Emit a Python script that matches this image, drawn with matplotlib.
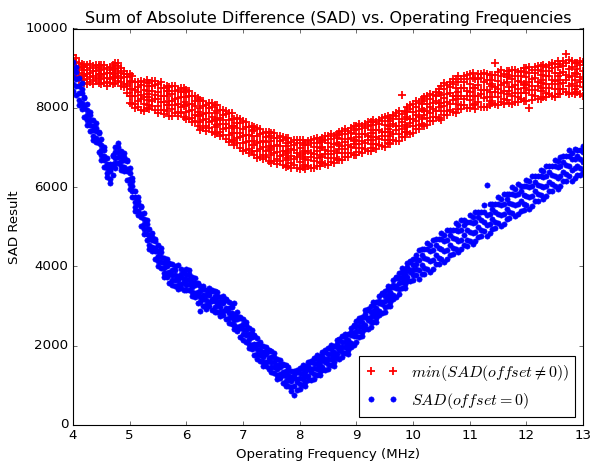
"""
SAD result against operating frequency, for zero offset and for the best non-zero offset.
"""
import numpy as np
import matplotlib
matplotlib.use('Agg')
from matplotlib import pyplot as plt

# frequency sweep, MHz
freq = np.round(np.arange(4.0, 13.0001, 0.05), 2)

# min(SAD(offset != 0)): readings per frequency, one line = 0.25 MHz
sad_min_offset = [
    (8850, 8970, 9090, 9200, 9340), (8790, 8920, 9030, 9160, 9250), (8690, 8770, 8890, 9000, 9130), (8700, 8790, 8950, 9030, 9110), (8620, 8800, 8860, 9030, 9090),
    (8600, 8720, 8840, 8950, 9090), (8640, 8770, 8880, 9010, 9100), (8610, 8690, 8810, 8920, 9050), (8670, 8760, 8920, 9000, 9080), (8620, 8800, 8860, 9030, 9090),
    (8600, 8720, 8840, 8950, 9090), (8620, 8750, 8860, 8990, 9080), (8560, 8640, 8760, 8870, 9000), (8630, 8720, 8880, 8960, 9040), (8600, 8780, 8840, 9010, 9070),
    (8630, 8750, 8870, 8980, 9120), (8680, 8810, 8920, 9050, 9140), (8560, 8640, 8760, 8870, 9000), (8520, 8610, 8770, 8850, 8930), (8370, 8550, 8610, 8780, 8840),
    (8120, 8300, 8480, 8660, 8860), (8100, 8300, 8470, 8670, 8800), (7990, 8100, 8290, 8450, 8650), (8020, 8160, 8400, 8530, 8650), (7950, 8220, 8320, 8580, 8670),
    (7920, 8100, 8280, 8460, 8660), (7990, 8190, 8360, 8560, 8690), (7970, 8080, 8270, 8430, 8630), (8040, 8180, 8420, 8550, 8670), (7950, 8220, 8320, 8580, 8670),
    (7870, 8050, 8230, 8410, 8610), (7940, 8140, 8310, 8510, 8640), (7840, 7950, 8140, 8300, 8500), (7920, 8060, 8300, 8430, 8550), (7800, 8070, 8170, 8430, 8520),
    (7800, 7980, 8160, 8340, 8540), (7860, 8060, 8230, 8430, 8560), (7790, 7900, 8090, 8250, 8450), (7880, 8020, 8260, 8390, 8510), (7770, 8040, 8140, 8400, 8490),
    (7720, 7900, 8080, 8260, 8460), (7730, 7930, 8100, 8300, 8430), (7640, 7750, 7940, 8100, 8300), (7670, 7810, 8050, 8180, 8300), (7530, 7800, 7900, 8160, 8250),
    (7450, 7630, 7810, 7990, 8190), (7480, 7680, 7850, 8050, 8180), (7420, 7530, 7720, 7880, 8080), (7490, 7630, 7870, 8000, 8120), (7400, 7670, 7770, 8030, 8120),
    (7340, 7520, 7700, 7880, 8080), (7360, 7560, 7730, 7930, 8060), (7280, 7390, 7580, 7740, 7940), (7320, 7460, 7700, 7830, 7950), (7210, 7480, 7580, 7840, 7930),
    (7140, 7320, 7500, 7680, 7880), (7160, 7360, 7530, 7730, 7860), (7070, 7180, 7370, 7530, 7730), (7110, 7250, 7490, 7620, 7740), (6990, 7260, 7360, 7620, 7710),
    (6920, 7100, 7280, 7460, 7660), (6940, 7140, 7310, 7510, 7640), (6860, 6970, 7160, 7320, 7520), (6910, 7050, 7290, 7420, 7540), (6800, 7070, 7170, 7430, 7520),
    (6740, 6920, 7100, 7280, 7480), (6770, 6970, 7140, 7340, 7470), (6700, 6810, 7000, 7160, 7360), (6760, 6900, 7140, 7270, 7390), (6670, 6940, 7040, 7300, 7390),
    (6620, 6800, 6980, 7160, 7360), (6660, 6860, 7030, 7230, 7360), (6590, 6700, 6890, 7050, 7250), (6650, 6790, 7030, 7160, 7280), (6550, 6820, 6920, 7180, 7270),
    (6500, 6680, 6860, 7040, 7240), (6540, 6740, 6910, 7110, 7240), (6490, 6600, 6790, 6950, 7150), (6560, 6700, 6940, 7070, 7190), (6480, 6750, 6850, 7110, 7200),
    (6450, 6630, 6810, 6990, 7190), (6500, 6700, 6870, 7070, 7200), (6450, 6560, 6750, 6910, 7110), (6540, 6680, 6920, 7050, 7170), (6480, 6750, 6850, 7110, 7200),
    (6470, 6650, 6830, 7010, 7210), (6540, 6740, 6910, 7110, 7240), (6520, 6630, 6820, 6980, 7180), (6620, 6760, 7000, 7130, 7250), (6570, 6840, 6940, 7200, 7290),
    (6560, 6740, 6920, 7100, 7300), (6640, 6840, 7010, 7210, 7340), (6620, 6730, 6920, 7080, 7280), (6720, 6860, 7100, 7230, 7350), (6680, 6950, 7050, 7310, 7400),
    (6680, 6860, 7040, 7220, 7420), (6760, 6960, 7130, 7330, 7460), (6750, 6860, 7050, 7210, 7410), (6860, 7000, 7240, 7370, 7490), (6820, 7090, 7190, 7450, 7540),
    (6810, 6990, 7170, 7350, 7550), (6890, 7090, 7260, 7460, 7590), (6870, 6980, 7170, 7330, 7530), (6970, 7110, 7350, 7480, 7600), (6920, 7190, 7290, 7550, 7640),
    (6910, 7090, 7270, 7450, 7650), (6990, 7190, 7360, 7560, 7690), (6970, 7080, 7270, 7430, 7630), (7070, 7210, 7450, 7580, 7700), (7030, 7300, 7400, 7660, 7750),
    (7020, 7200, 7380, 7560, 7760), (7100, 7300, 7470, 7670, 7800), (7090, 7200, 7390, 7550, 7750), (7200, 7340, 7580, 7710, 7830), (7160, 7430, 7530, 7790, 7880),
    (7170, 7350, 7530, 7710, 7910), (7270, 7470, 7640, 7840, 8320), (7270, 7380, 7570, 7730, 7930), (7380, 7520, 7760, 7890, 8010), (7350, 7620, 7720, 7980, 8070),
    (7360, 7540, 7720, 7900, 8100), (7460, 7660, 7830, 8030, 8160), (7460, 7570, 7760, 7920, 8120), (7580, 7720, 7960, 8090, 8210), (7550, 7820, 7920, 8180, 8270),
    (7560, 7740, 7920, 8100, 8300), (7660, 7860, 8030, 8230, 8360), (7660, 7770, 7960, 8120, 8320), (7780, 7920, 8160, 8290, 8410), (7750, 8020, 8120, 8380, 8470),
    (7700, 7910, 8120, 8320, 8550), (7810, 8040, 8240, 8470, 8620), (7810, 7930, 8150, 8340, 8570), (7940, 8100, 8380, 8520, 8660), (7890, 8200, 8310, 8610, 8720),
    (7880, 8090, 8300, 8500, 8730), (7980, 8210, 8410, 8640, 8790), (7960, 8080, 8300, 8490, 8720), (8070, 8230, 8510, 8650, 8790), (8000, 8310, 8420, 8720, 8830),
    (7990, 8200, 8410, 8610, 8840), (8080, 8310, 8510, 8740, 8890), (7970, 8090, 8310, 8500, 8730), (8140, 8300, 8580, 8720, 8860), (8030, 8340, 8450, 8750, 8860),
    (8030, 8240, 8450, 8650, 8880), (8030, 8260, 8460, 8690, 8840), (8060, 8180, 8400, 8590, 8820), (8110, 8270, 8550, 8690, 8830), (8100, 8410, 8520, 8820, 9130),
    (8060, 8270, 8480, 8680, 8910), (8150, 8380, 8580, 8810, 8960), (8090, 8210, 8430, 8620, 8850), (8200, 8360, 8640, 8780, 8920), (8110, 8420, 8530, 8830, 8940),
    (8100, 8310, 8520, 8720, 8950), (8150, 8380, 8580, 8810, 8960), (8140, 8260, 8480, 8670, 8900), (8220, 8380, 8660, 8800, 8940), (8180, 8490, 8600, 8900, 9010),
    (8160, 8370, 8580, 8780, 9010), (8000, 8440, 8640, 8870, 9020), (8200, 8320, 8540, 8730, 8960), (8300, 8460, 8740, 8880, 9020), (8230, 8540, 8650, 8950, 9060),
    (8210, 8420, 8630, 8830, 9060), (8280, 8510, 8710, 8940, 9090), (8260, 8380, 8600, 8790, 9020), (8350, 8510, 8790, 8930, 9070), (8290, 8600, 8710, 9010, 9120),
    (8260, 8470, 8680, 8880, 9110), (8360, 8590, 8790, 9020, 9170), (8350, 8470, 8690, 8880, 9110), (8470, 8630, 8910, 9050, 9190), (8400, 8710, 8820, 9120, 9350),
    (8350, 8560, 8770, 8970, 9200), (8370, 8600, 8800, 9030, 9180), (8360, 8480, 8700, 8890, 9120), (8400, 8560, 8840, 8980, 9120), (8350, 8660, 8770, 9070, 9180),
    (8310, 8520, 8730, 8930, 9160),
]

# SAD(offset = 0): readings per frequency, one line = 0.25 MHz
sad_zero_offset = [
    (8420, 8600, 8785, 8970, 9165), (8320, 8545, 8715, 8895, 9020), (8065, 8205, 8385, 8555, 8750), (7975, 8115, 8380, 8480, 8635), (7775, 7995, 8055, 8245, 8275),
    (7565, 7695, 7825, 7955, 8095), (7405, 7565, 7685, 7815, 7905), (7200, 7300, 7430, 7550, 7690), (7135, 7235, 7425, 7495, 7605), (6885, 7105, 7165, 7355, 7385),
    (6680, 6810, 6940, 7070, 7210), (6515, 6675, 6795, 6925, 7015), (6245, 6345, 6475, 6595, 6735), (6105, 6205, 6395, 6465, 6575), (6305, 6525, 6585, 6775, 6805),
    (6485, 6615, 6745, 6875, 7015), (6610, 6770, 6890, 7020, 7110), (6425, 6525, 6655, 6775, 6915), (6400, 6500, 6690, 6760, 6870), (6180, 6400, 6460, 6650, 6680),
    (5955, 6085, 6215, 6345, 6485), (5740, 5900, 6020, 6150, 6240), (5400, 5500, 5630, 5750, 5890), (5285, 5385, 5575, 5645, 5755), (5030, 5250, 5310, 5500, 5530),
    (4810, 4940, 5070, 5200, 5340), (4665, 4825, 4945, 5075, 5165), (4450, 4550, 4680, 4800, 4940), (4380, 4480, 4670, 4740, 4850), (4180, 4400, 4460, 4650, 4680),
    (4010, 4140, 4270, 4400, 4540), (3960, 4120, 4240, 4370, 4460), (3730, 3830, 3960, 4080, 4220), (3725, 3825, 4015, 4085, 4195), (3580, 3800, 3860, 4050, 4080),
    (3520, 3650, 3780, 3910, 4050), (3505, 3665, 3785, 3915, 4005), (3420, 3520, 3650, 3770, 4040), (3455, 3555, 3745, 3815, 3925), (3395, 3615, 3675, 3865, 3895),
    (3405, 3535, 3665, 3795, 3935), (3405, 3565, 3685, 3815, 3905), (3250, 3350, 3480, 3600, 3740), (3230, 3330, 3520, 3590, 3700), (3080, 3300, 3360, 3550, 3580),
    (2870, 3110, 3240, 3370, 3510), (3010, 3170, 3290, 3420, 3510), (2920, 3020, 3150, 3270, 3410), (2990, 3090, 3280, 3350, 3460), (2905, 3125, 3185, 3375, 3405),
    (2855, 2985, 3115, 3245, 3385), (2855, 3015, 3135, 3265, 3355), (2745, 2845, 2975, 3095, 3235), (2775, 2875, 3065, 3135, 3245), (2670, 2890, 2950, 3140, 3170),
    (2565, 2695, 2825, 2955, 3095), (2555, 2715, 2835, 2965, 3055), (2420, 2520, 2650, 2770, 3070), (2375, 2475, 2665, 2735, 2845), (2225, 2445, 2505, 2695, 2725),
    (2155, 2285, 2415, 2545, 2685), (2105, 2265, 2385, 2515, 2605), (1945, 2045, 2175, 2295, 2435), (1925, 2025, 2215, 2285, 2395), (1775, 1995, 2055, 2245, 2275),
    (1655, 1785, 1915, 2045, 2185), (1605, 1765, 1885, 2015, 2105), (1495, 1595, 1725, 1845, 1985), (1500, 1600, 1790, 1860, 1970), (1400, 1620, 1680, 1870, 1900),
    (1330, 1460, 1590, 1720, 1860), (1305, 1465, 1585, 1715, 1805), (1170, 1270, 1400, 1520, 1660), (1175, 1275, 1465, 1535, 1645), (1050, 1270, 1330, 1520, 1550),
    (980, 1110, 1240, 1370, 1510), (975, 1135, 1255, 1385, 1475), (870, 970, 1100, 1220, 1360), (750, 990, 1180, 1250, 1360), (875, 1095, 1155, 1345, 1375),
    (915, 1045, 1175, 1305, 1445), (1010, 1170, 1290, 1420, 1510), (995, 1095, 1225, 1345, 1485), (1130, 1230, 1420, 1490, 1600), (1125, 1345, 1405, 1595, 1625),
    (1165, 1295, 1425, 1555, 1695), (1255, 1415, 1535, 1665, 1755), (1250, 1350, 1480, 1600, 1740), (1375, 1475, 1665, 1735, 1845), (1380, 1600, 1660, 1850, 1880),
    (1405, 1535, 1665, 1795, 1935), (1510, 1670, 1790, 1920, 2010), (1495, 1595, 1725, 1845, 1985), (1680, 1780, 1970, 2040, 2150), (1675, 1895, 1955, 2145, 2175),
    (1710, 1840, 1970, 2100, 2240), (1805, 1965, 2085, 2215, 2305), (1800, 1900, 2030, 2150, 2290), (1975, 2075, 2265, 2335, 2445), (2030, 2250, 2310, 2500, 2530),
    (2105, 2235, 2365, 2495, 2635), (2210, 2370, 2490, 2620, 2710), (2245, 2345, 2475, 2595, 2735), (2430, 2530, 2720, 2790, 2900), (2425, 2645, 2705, 2895, 2925),
    (2460, 2590, 2720, 2850, 2990), (2605, 2765, 2885, 3015, 3105), (2600, 2700, 2830, 2950, 3090), (2775, 2875, 3065, 3135, 3245), (2830, 3050, 3110, 3300, 3330),
    (2855, 2985, 3115, 3245, 3385), (3010, 3170, 3290, 3420, 3510), (2995, 3095, 3225, 3345, 3485), (3180, 3280, 3470, 3540, 3650), (3225, 3445, 3505, 3695, 3725),
    (3310, 3440, 3570, 3700, 3840), (3455, 3615, 3735, 3865, 3955), (3450, 3550, 3680, 3800, 3940), (3625, 3725, 3915, 3985, 4095), (3630, 3850, 3910, 4100, 4130),
    (3655, 3785, 3915, 4045, 4185), (3780, 3940, 4060, 4190, 4280), (3680, 3920, 4170, 4420), (3800, 4040, 4290, 4430), (3810, 3970, 4210, 4430),
    (3940, 4180, 4430, 4590), (3860, 4140, 4400, 4550), (3930, 4170, 4420, 4670), (4050, 4290, 4540, 4680), (4060, 4220, 4460, 4680),
    (4190, 4430, 4680, 4840), (4110, 4390, 4650, 4800), (4180, 4420, 4670, 4920), (4300, 4540, 4790, 4930), (4310, 4470, 4710, 4930),
    (4440, 4680, 4930, 5090), (4360, 4640, 4900, 5050), (4430, 4670, 4920, 5170), (4550, 4790, 5040, 5180), (4510, 4670, 4910, 5130),
    (4640, 4880, 5130, 5290), (4560, 4840, 5100, 5250), (4630, 4870, 5120, 5370), (4750, 4990, 5240, 5380), (4760, 4920, 5160, 5380),
    (4890, 5130, 5380, 5540), (4760, 5040, 5300, 6050), (4830, 5070, 5320, 5570), (4950, 5190, 5440, 5580), (4960, 5120, 5360, 5580),
    (5090, 5330, 5580, 5740), (5010, 5290, 5550, 5700), (5080, 5320, 5570, 5820), (5200, 5440, 5690, 5830), (5210, 5370, 5610, 5830),
    (5340, 5580, 5830, 5990), (5260, 5540, 5800, 5950), (5330, 5570, 5820, 6070), (5400, 5640, 5890, 6030), (5410, 5570, 5810, 6030),
    (5540, 5780, 6030, 6190), (5460, 5740, 6000, 6150), (5530, 5770, 6020, 6270), (5650, 5890, 6140, 6280), (5660, 5820, 6060, 6280),
    (5790, 6030, 6280, 6440), (5710, 5990, 6250, 6400), (5780, 6020, 6270, 6520), (5900, 6140, 6390, 6530), (5910, 6070, 6310, 6530),
    (6040, 6280, 6530, 6690), (5960, 6240, 6500, 6650), (6030, 6270, 6520, 6770), (6150, 6390, 6640, 6780), (6160, 6320, 6560, 6780),
    (6290, 6530, 6780, 6940), (6160, 6440, 6700, 6850), (6230, 6470, 6720, 6970), (6300, 6540, 6790, 6930), (6310, 6470, 6710, 6930),
    (6390, 6630, 6880, 7040),
]


def flatten(rows):
    # pair every reading with the frequency it was taken at
    xs = [f for f, row in zip(freq, rows) for _ in row]
    ys = [v for row in rows for v in row]
    return xs, ys


plt.style.use('classic')
plt.rcParams['mathtext.fontset'] = 'cm'

fig = plt.figure(figsize=(598 / 80, 462 / 80), dpi=80)
ax = fig.add_axes([73 / 598, 37 / 462, 510 / 598, 396.5 / 462])

x_red, y_red = flatten(sad_min_offset)
x_blue, y_blue = flatten(sad_zero_offset)
ax.plot(x_red, y_red, 'r+', ms=8, mew=1.6, label=r'$min(SAD(offset\neq0))$')
ax.plot(x_blue, y_blue, 'b.', ms=9.5, label=r'$SAD(offset=0)$')

ax.set_xlim(4, 13)
ax.set_ylim(0, 10000)
ax.set_title("Sum of Absolute Difference (SAD) vs. Operating Frequencies")
ax.set_xlabel("Operating Frequency (MHz)")
ax.set_ylabel("SAD Result")
ax.legend(loc='lower right', numpoints=2)

fig.savefig('out.png', dpi=80)
